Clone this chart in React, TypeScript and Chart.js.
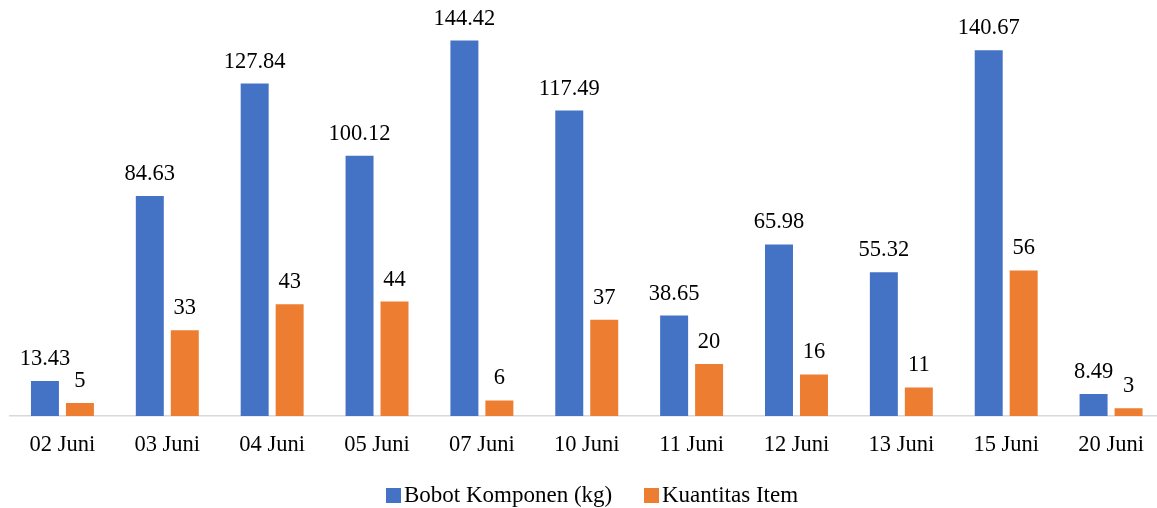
import React, { useEffect, useRef } from "react";
import { Chart, registerables } from "chart.js";

Chart.register(...registerables);

// Tanggal pengiriman
const categories = [
  "02 Juni", "03 Juni", "04 Juni", "05 Juni", "07 Juni", "10 Juni",
  "11 Juni", "12 Juni", "13 Juni", "15 Juni", "20 Juni",
];

// Bobot komponen (kg) per tanggal
const bobotKomponen = [13.43, 84.63, 127.84, 100.12, 144.42, 117.49, 38.65, 65.98, 55.32, 140.67, 8.49];

// Jumlah item per tanggal
const kuantitasItem = [5, 33, 43, 44, 6, 37, 20, 16, 11, 56, 3];

const seriesNames = ["Bobot Komponen (kg)", "Kuantitas Item"];
const seriesColors = ["#4472C4", "#ED7D31"];

const FONT = "'Liberation Serif', 'Times New Roman', serif";

// Draws each bar's value above its top edge
const valueLabels = {
  id: "valueLabels",
  afterDatasetsDraw(chart: any) {
    const ctx = chart.ctx;
    ctx.save();
    ctx.font = `22.5px ${FONT}`;
    ctx.fillStyle = "#000";
    ctx.textAlign = "center";
    ctx.textBaseline = "alphabetic";
    chart.data.datasets.forEach((ds: any, di: number) => {
      const meta = chart.getDatasetMeta(di);
      meta.data.forEach((bar: any, i: number) => {
        ctx.fillText(String(ds.data[i]), bar.x, bar.y - 16);
      });
    });
    ctx.restore();
  },
};

export default function App() {
  const canvasRef = useRef<HTMLCanvasElement | null>(null);

  useEffect(() => {
    if (!canvasRef.current) return;
    const chart = new Chart(canvasRef.current, {
      type: "bar",
      data: {
        labels: categories,
        datasets: [
          {
            label: seriesNames[0],
            data: bobotKomponen,
            backgroundColor: seriesColors[0],
            categoryPercentage: 0.667,
            barPercentage: 0.8,
          },
          {
            label: seriesNames[1],
            data: kuantitasItem,
            backgroundColor: seriesColors[1],
            categoryPercentage: 0.667,
            barPercentage: 0.8,
          },
        ],
      },
      options: {
        responsive: false,
        animation: false,
        layout: { padding: { left: 10, right: 1.5, top: 0, bottom: 0 } },
        plugins: {
          legend: { display: false },
          tooltip: { enabled: false },
        },
        scales: {
          x: {
            grid: { display: false, drawTicks: false },
            border: { display: true, color: "#d9d9d9", width: 1.5 },
            ticks: {
              color: "#000",
              font: { family: FONT, size: 22.5 },
              padding: 16,
              maxRotation: 0,
              autoSkip: false,
            },
            afterFit(scale: any) {
              scale.height = 92;
            },
          },
          y: {
            display: false,
            min: 0,
            max: 160,
          },
        },
      },
      plugins: [valueLabels],
    });
    return () => chart.destroy();
  }, []);

  return (
    <div
      style={{
        position: "fixed",
        left: 0,
        top: 0,
        width: 1157,
        height: 508,
        overflow: "hidden",
        background: "#fff",
      }}
    >
      <canvas ref={canvasRef} width={1165} height={508} style={{ display: "block" }} />
      {seriesNames.map((name, i) => (
        <div
          key={name}
          style={{
            position: "absolute",
            left: [386, 644][i],
            top: 480,
            height: 30,
            display: "flex",
            alignItems: "center",
            fontFamily: FONT,
            fontSize: 23,
            color: "#000",
            whiteSpace: "nowrap",
          }}
        >
          <span
            style={{
              display: "inline-block",
              width: 15,
              height: 15,
              background: seriesColors[i],
              marginRight: 3,
            }}
          />
          <span>{name}</span>
        </div>
      ))}
    </div>
  );
}
